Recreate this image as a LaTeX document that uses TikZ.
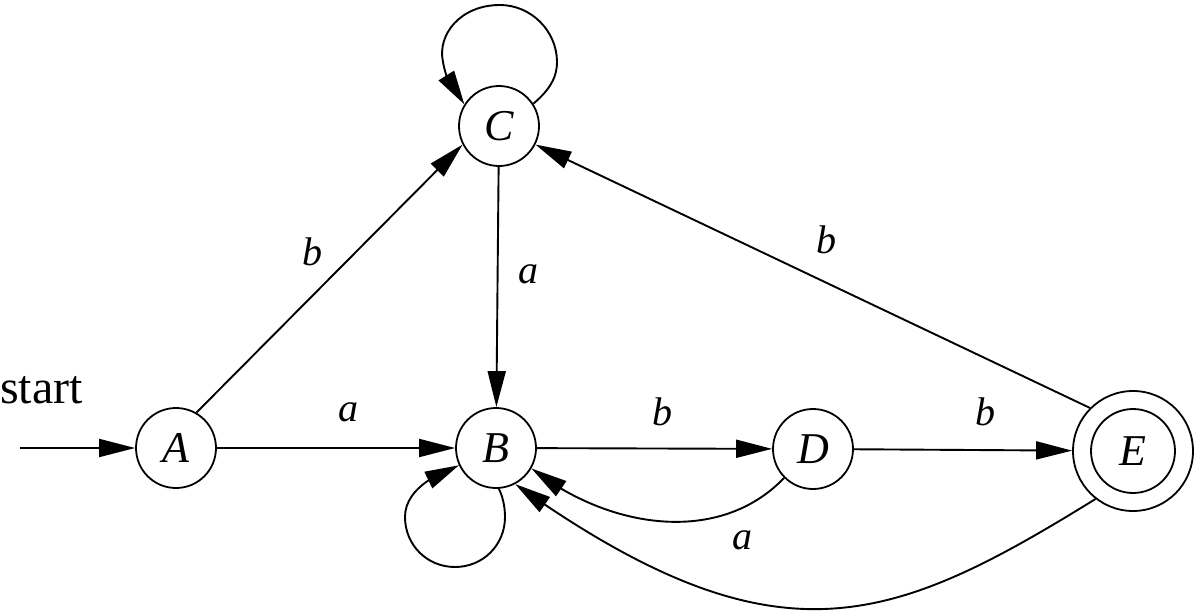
\documentclass[tikz,border=0pt]{standalone}
\usepackage{fontspec}
\setmainfont{Liberation Serif}
\usetikzlibrary{arrows.meta,bending}
\tikzset{
  state/.style={circle,draw,line width=1.8pt,minimum size=80pt,inner sep=0pt,font=\fontsize{44}{50}\selectfont\itshape},
  arr/.style={line width=1.9pt,-{Triangle[length=36pt,width=18pt]}},
  looparr/.style={line width=1.9pt,-{Triangle[length=34pt,width=18pt,flex'=1]}},
  lab/.style={font=\fontsize{40}{46}\selectfont\itshape,inner sep=0pt},
}
\begin{document}
\begin{tikzpicture}[x=1pt,y=-1pt]
\useasboundingbox (0,0) rectangle (1200,616);
\node[state] (A) at (176,448) {A};
\node[state] (B) at (496,448) {B};
\node[state] (C) at (499,126) {C};
\node[state] (D) at (813,449) {D};
\node[state,minimum size=120pt] (E) at (1133,451) {};
\node[state,minimum size=84pt] (Ein) at (E.center) {E};
\coordinate (s) at (20,448);
\node[font=\fontsize{48}{52}\selectfont,inner sep=0pt,anchor=base west] (st) at (0,403) {start};
\draw[arr] (s) -- (A);
\draw[arr] (A) -- (B);
\draw[arr] (A.60) -- (C.207);
\draw[arr] (C) -- (B);
\draw[arr] (B) -- (D);
\draw[arr] (D) -- (E);
\draw[arr] (E.135) -- (C.-27);
\draw[looparr] (C.33) .. controls (552,88) and (557,75) .. (557,62)
  .. controls (557,31) and (531,5) .. (500,5)
  .. controls (460,5) and (437,35) .. (443,62)
  .. controls (446,78) and (452,94) .. (C.148);
\draw[looparr] (B.-86) .. controls (502,495) and (505,505) .. (505,517)
  .. controls (505,545) and (483,567) .. (455,567)
  .. controls (427,567) and (405,545) .. (405,517)
  .. controls (405,495) and (425,478) .. (B.205);
\draw[arr] (D.225) .. controls (720,545) and (610,530) .. (B.-30);
\draw[arr] (E.-128) .. controls (890,626) and (777,670) .. (B.-62);
\node[lab] (l1) at (312,252) {b};
\node[lab] (l2) at (528,274) {a};
\node[lab] (l3) at (826,240) {b};
\node[lab] (l4) at (348,412) {a};
\node[lab] (l5) at (662,412) {b};
\node[lab] (l6) at (985,412) {b};
\node[lab] (l7) at (742,540) {a};
\end{tikzpicture}
\end{document}
